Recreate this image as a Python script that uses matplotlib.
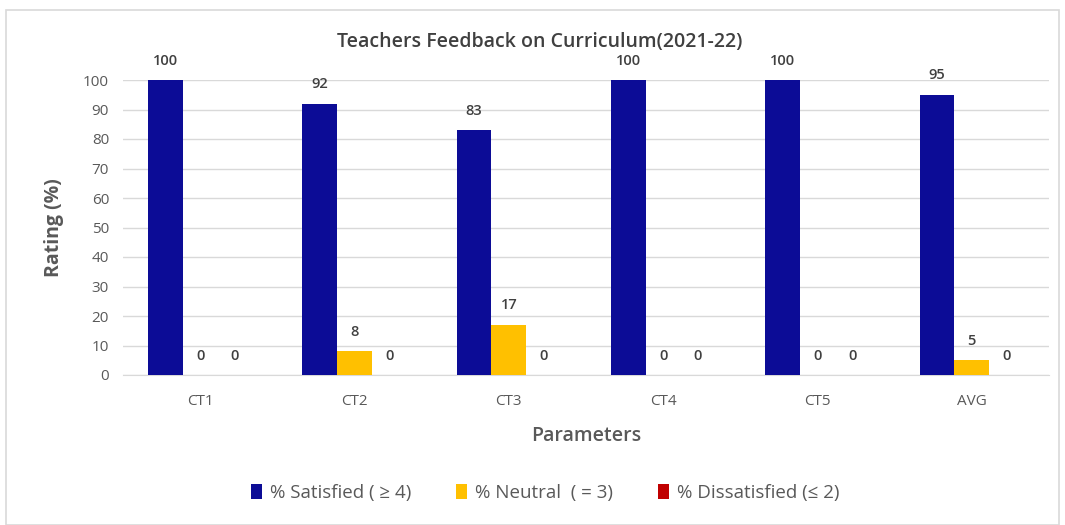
import matplotlib
matplotlib.use("Agg")
import matplotlib.pyplot as plt
import numpy as np
from matplotlib.patches import Rectangle

categories = ["CT1", "CT2", "CT3", "CT4", "CT5", "AVG"]
satisfied = [100, 92, 83, 100, 100, 95]
neutral = [0, 8, 17, 0, 0, 5]
dissatisfied = [0, 0, 0, 0, 0, 0]
series_names = ["% Satisfied ( \u2265 4)", "% Neutral  ( = 3)", "% Dissatisfied (\u2264 2)"]
colors = ["#0C0C96", "#FFC000", "#C00000"]

plt.rcParams['font.family'] = ['Open Sans', 'DejaVu Sans']

fig = plt.figure(figsize=(10.65, 5.25), dpi=100)
fig.patches.append(Rectangle((6/1065, 0.0), 1 - 12/1065, 1 - 10/525, transform=fig.transFigure,
                             fill=False, edgecolor="#D9D9D9", linewidth=1.2))
ax = fig.add_axes([123/1065, 1 - 375/525, (1049 - 123)/1065, 295/525])

x = np.arange(len(categories))
w = 0.225
text_color = "#404040"
for i, (vals, c, name) in enumerate(zip([satisfied, neutral, dissatisfied], colors, series_names)):
    pos = x + (i - 1) * w
    ax.bar(pos, vals, width=w, color=c, label=name, zorder=3)
    for px, v in zip(pos, vals):
        ax.annotate(f"{v}", (px, v), xytext=(0, 14), textcoords="offset points",
                    ha="center", va="center", fontsize=10.5, fontweight="semibold", color=text_color)

ax.set_ylim(0, 100)
ax.set_xlim(-0.5, len(categories) - 0.5)
ax.set_yticks(range(0, 101, 10))
ax.set_xticks(x)
ax.set_xticklabels(categories)
ax.tick_params(axis="both", length=0, labelsize=11, labelcolor="#595959")
ax.tick_params(axis="x", pad=14)
ax.tick_params(axis="y", pad=10)
ax.grid(axis="y", color="#D9D9D9", linewidth=1, zorder=0)
for s in ["top", "right", "left"]:
    ax.spines[s].set_visible(False)
ax.spines["bottom"].set_color("#D9D9D9")

ax.set_ylabel("Rating (%)", fontsize=14, fontweight="bold", color="#595959", labelpad=14)
ax.set_xlabel("Parameters", fontsize=14, fontweight="semibold", color="#595959", labelpad=12)
fig.text(540/1065, 1 - 42/525, "Teachers Feedback on Curriculum(2021-22)", ha="center", va="center",
         fontsize=14, fontweight="semibold", color=text_color)

leg = fig.legend(loc="center", bbox_to_anchor=(545/1065, 1 - 493/525), ncol=3, frameon=False,
                 fontsize=13.5, handlelength=0.6, handleheight=0.9, columnspacing=2.4, handletextpad=0.4)
for t in leg.get_texts():
    t.set_color("#595959")

fig.savefig("out.png", dpi=100)
